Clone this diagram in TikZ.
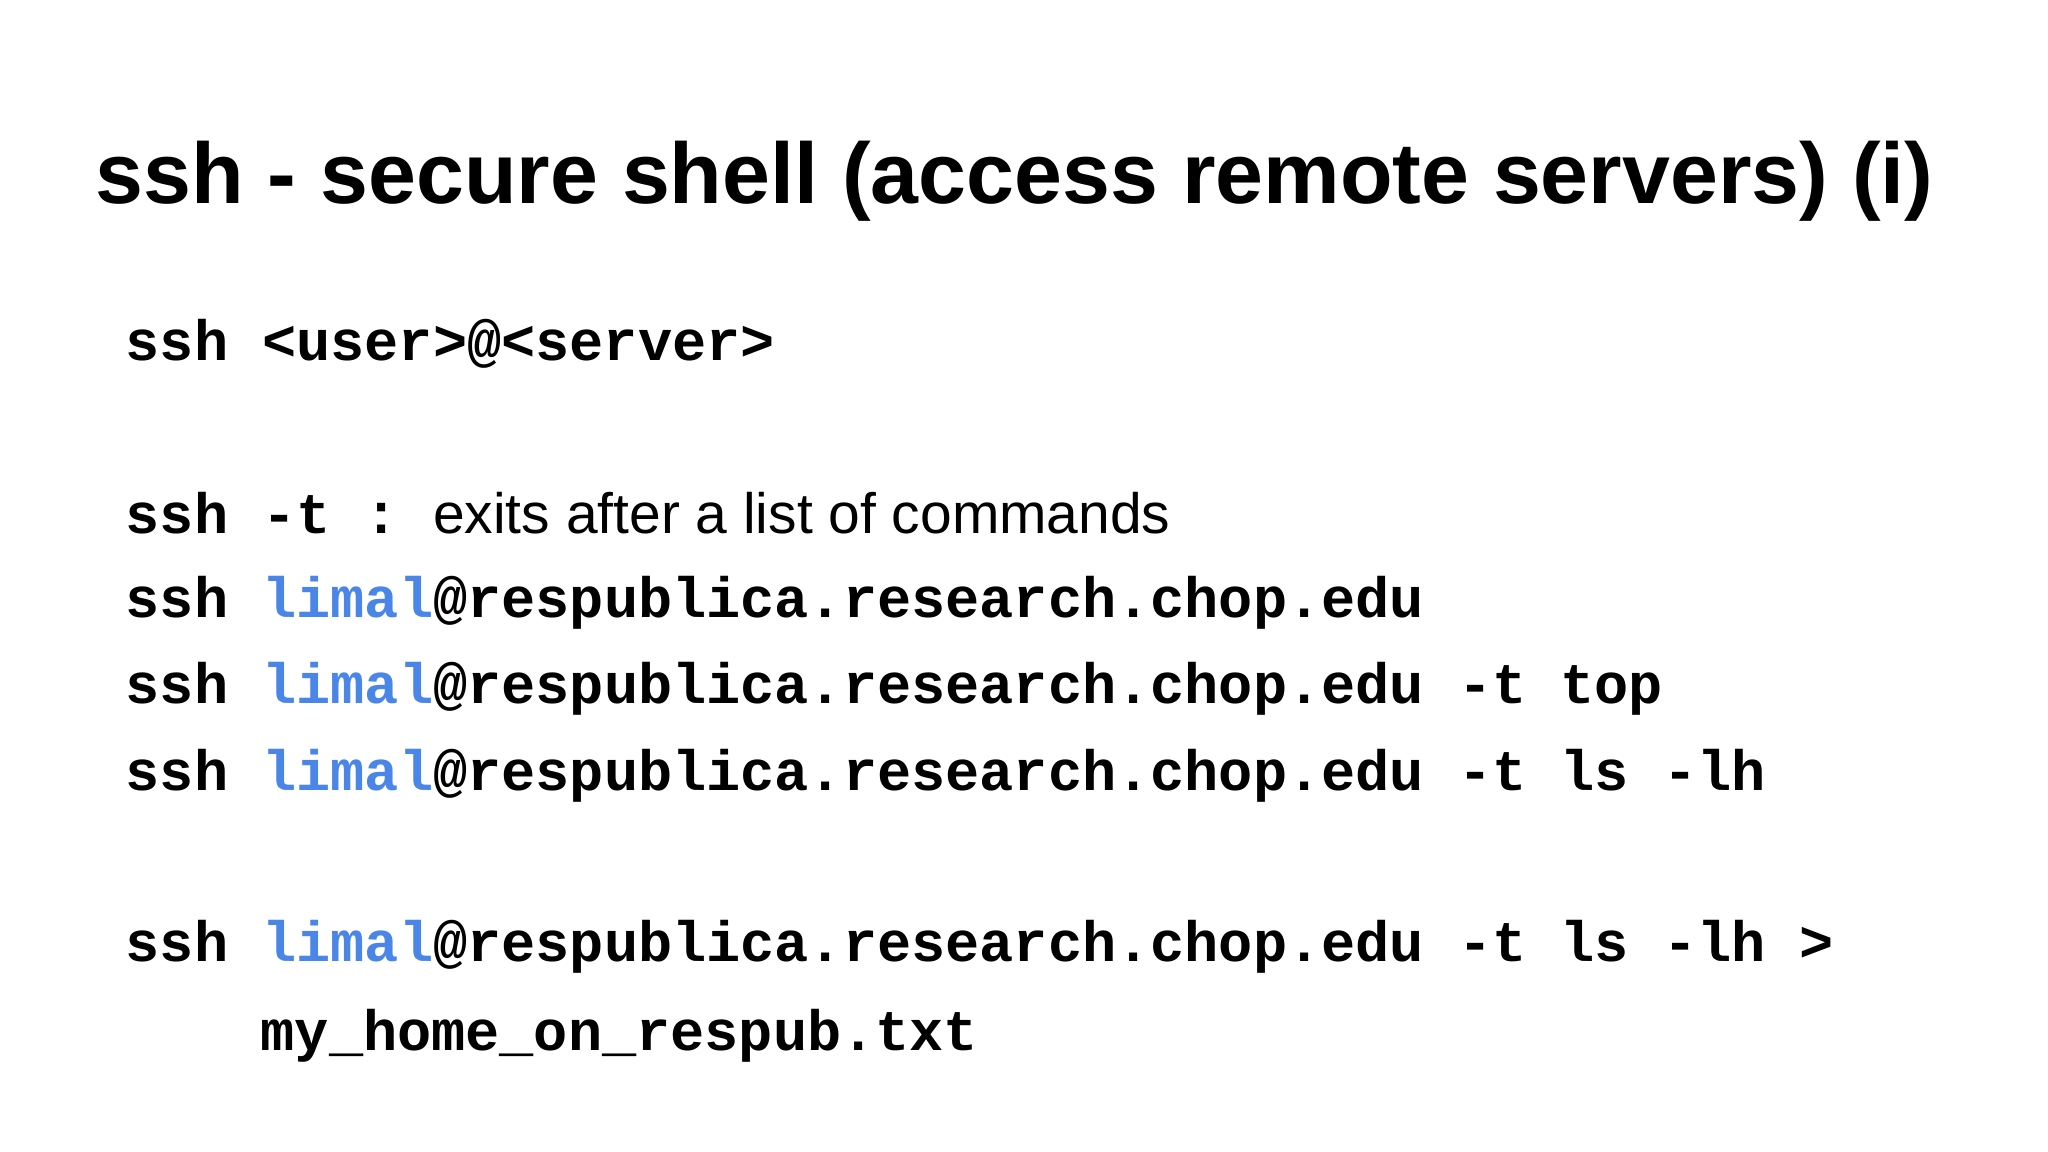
\documentclass[tikz,border=0pt]{standalone}
\usepackage{fontspec}
\setmainfont{Liberation Sans}
\setmonofont{Liberation Mono}
\definecolor{ublue}{HTML}{4A86E8}
\begin{document}
\begin{tikzpicture}
\useasboundingbox[fill=white] (0,0) rectangle (20.48,-11.52);
\tikzset{codeline/.style={anchor=base west,inner sep=0pt,font=\fontsize{16.2}{18}\selectfont\ttfamily\bfseries},
titletext/.style={anchor=base west,inner sep=0pt,font=\fontsize{24.5}{28}\selectfont\bfseries}}
\newcommand{\usr}{\textcolor{ublue}{limal}}
\node[titletext] (title) at (0.95,-2.04) {ssh - secure shell (access remote servers) (i)};
\node[codeline] (l1) at (1.25,-3.61) {ssh <user>@<server>};
\node[codeline] (l2) at (1.25,-5.33) {ssh -t :\ {\normalfont\mdseries\fontsize{16.2}{18}\selectfont exits after a list of commands}};
\node[codeline] (l3) at (1.25,-6.18) {ssh \usr @respublica.research.chop.edu};
\node[codeline] (l4) at (1.25,-7.04) {ssh \usr @respublica.research.chop.edu -t top};
\node[codeline] (l5) at (1.25,-7.90) {ssh \usr @respublica.research.chop.edu -t ls -lh};
\node[codeline] (l6) at (1.25,-9.62) {ssh \usr @respublica.research.chop.edu -t ls -lh >};
\node[codeline] (l7) at (2.60,-10.50) {my\_home\_on\_respub.txt};
\end{tikzpicture}
\end{document}
